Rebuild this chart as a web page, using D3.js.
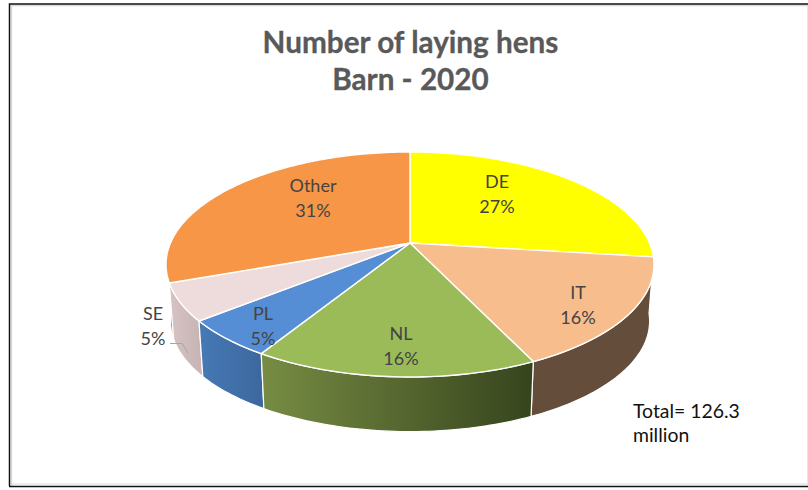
<!DOCTYPE html>
<html>
<head>
<script src="https://d3js.org/d3.v7.min.js" charset="utf-8"></script>
<style>
  html, body { margin: 0; padding: 0; background: #fff; }
  svg { display: block; }
  text { font-family: Lato, "Open Sans", sans-serif; }
</style>
</head>
<body>
<svg width="808" height="490"></svg>
<script>
// slice shares (labels are the rounded figures)
var categories = ["DE", "IT", "NL", "PL", "SE", "Other"];
var shares = [27.0, 16.0, 15.7, 5.4, 5.3, 30.6];
var percentLabels = ["27%", "16%", "16%", "5%", "5%", "31%"];
var titleLines = ["Number of laying hens", "Barn - 2020"];
var totalLines = ["Total= 126.3", "million"];

var topColors = ["#ffff00", "#f7bd8c", "#9bbb59", "#558ed5", "#eedcdc", "#f79646"];
var sideFrom = ["#b3b300", "#654d3b", "#778c43", "#4679b6", "#d6c3c3", "#c87a35"];
var sideTo = ["#b3b300", "#654d3b", "#36441d", "#3d689e", "#c9b5b5", "#c87a35"];
var labelPos = [[497, 195], [578, 306], [401, 347], [263, 327], [153, 327], [313, 199]];

var svg = d3.select("svg");
var defs = svg.append("defs");

// perspective view of the pie disc
var view = {cx: 410, cy: 243, r: 239.5, tilt: 0.4526, persp: 0.191};
var rim = {scale: 0.982, cy: 300};

function project(a, r) {
	var u = Math.sin(a) * r, v = -Math.cos(a) * r;
	var k = 1 - view.persp * v;
	return [view.cx + view.r * u / k, view.cy + view.r * view.tilt * v / k];
}
function projectRim(a) {
	var p = project(a, 1);
	return [view.cx + (p[0] - view.cx) * rim.scale, rim.cy + (p[1] - view.cy) * rim.scale];
}
function samples(d) {
	var n = Math.max(4, Math.ceil((d.endAngle - d.startAngle) / 0.02));
	return d3.range(n + 1).map(function(i) {
		return d.startAngle + (d.endAngle - d.startAngle) * i / n;
	});
}

var pie = d3.pie().sort(null);
var arcs = pie(shares);
var line = d3.line();

// frame
var frame = svg.append("g").attr("fill", "none");
frame.append("path").attr("d", "M11.5,487V5.5H808").attr("stroke", "#d9d9d9").attr("stroke-width", 1.5);
frame.append("path").attr("d", "M9.5,486V4H808").attr("stroke", "#111").attr("stroke-width", 1.5);
frame.append("path").attr("d", "M9,486.5H808").attr("stroke", "#111").attr("stroke-width", 1.5);
frame.append("path").attr("d", "M11,484H808").attr("stroke", "#d9d9d9").attr("stroke-width", 1);
frame.append("path").attr("d", "M807.5,6V484").attr("stroke", "#e6e6e6").attr("stroke-width", 1);

// title
svg.append("g").selectAll("text").data(titleLines).enter().append("text")
	.attr("x", 410.5)
	.attr("y", function(d, i) { return 53 + i * 36.5; })
	.attr("text-anchor", "middle")
	.attr("font-size", "29.7px")
	.attr("font-weight", "bold")
	.attr("fill", "#595959")
	.attr("stroke", "#595959")
	.attr("stroke-width", 0.3)
	.text(function(d) { return d; });

// rim gradients
arcs.forEach(function(d, i) {
	var a = project(d.startAngle, 1), b = project(d.endAngle, 1);
	var g = defs.append("linearGradient")
		.attr("id", "side" + i)
		.attr("gradientUnits", "userSpaceOnUse")
		.attr("x1", Math.min(a[0], b[0])).attr("x2", Math.max(a[0], b[0]))
		.attr("y1", 0).attr("y2", 0);
	g.append("stop").attr("offset", 0).attr("stop-color", sideFrom[i]);
	g.append("stop").attr("offset", 1).attr("stop-color", sideTo[i]);
});

// rim, back slices first
svg.append("g").selectAll("path").data([0, 5, 1, 4, 3, 2]).enter().append("path")
	.attr("d", function(i) {
		var as = samples(arcs[i]);
		var pts = as.map(function(a) { return project(a, 1); })
			.concat(as.slice().reverse().map(projectRim));
		return line(pts) + "Z";
	})
	.attr("fill", function(i) { return "url(#side" + i + ")"; })
	.attr("stroke", "#fff")
	.attr("stroke-width", 1.2)
	.attr("stroke-linejoin", "round");

// top face
svg.append("g").selectAll("path").data(arcs).enter().append("path")
	.attr("d", function(d) {
		var pts = [[view.cx, view.cy]].concat(samples(d).map(function(a) { return project(a, 1); }));
		return line(pts) + "Z";
	})
	.attr("fill", function(d, i) { return topColors[i]; })
	.attr("stroke", "#fff")
	.attr("stroke-width", 1.4)
	.attr("stroke-linejoin", "round");

// leader line for SE
svg.append("path")
	.attr("d", "M170,343.5H182L188,353")
	.attr("fill", "none")
	.attr("stroke", "#a6a6a6")
	.attr("stroke-width", 1);

// slice labels
var labels = svg.append("g").selectAll("text").data(categories).enter().append("text")
	.attr("text-anchor", "middle")
	.attr("font-size", "18px")
	.attr("fill", "#444");
labels.append("tspan")
	.attr("x", function(d, i) { return labelPos[i][0]; })
	.attr("y", function(d, i) { return labelPos[i][1] - 7; })
	.text(function(d) { return d; });
labels.append("tspan")
	.attr("x", function(d, i) { return labelPos[i][0]; })
	.attr("y", function(d, i) { return labelPos[i][1] + 18; })
	.text(function(d, i) { return percentLabels[i]; });

// total note
svg.append("g").selectAll("text").data(totalLines).enter().append("text")
	.attr("x", 633)
	.attr("y", function(d, i) { return 418 + i * 24; })
	.attr("font-size", "19.4px")
	.attr("fill", "#111")
	.text(function(d) { return d; });
</script>
</body>
</html>
